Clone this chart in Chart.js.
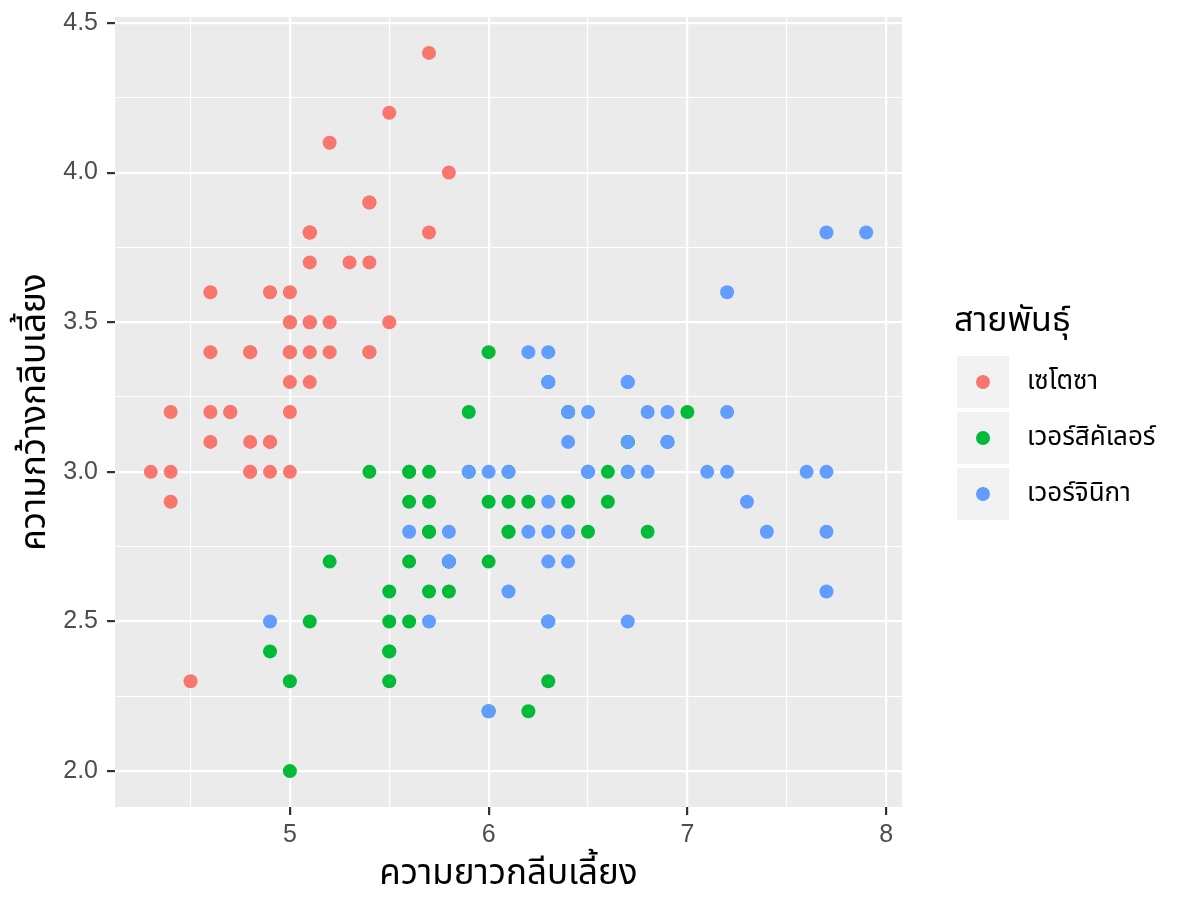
<!DOCTYPE html>
<html>
<head>
<meta charset="utf-8">
<script src="https://cdn.jsdelivr.net/npm/chart.js@4"></script>
<style>
html,body{margin:0;padding:0;background:#fff;}
#c{display:block;}
</style>
</head>
<body>
<canvas id="c" width="1184" height="911"></canvas>
<script>
// ---- Data (sepal length, sepal width) ----
const seriesNames = ["เซโตซา", "เวอร์สิคัเลอร์", "เวอร์จินิกา"];
const setosaX = [5.1,4.9,4.7,4.6,5.0,5.4,4.6,5.0,4.4,4.9,5.4,4.8,4.8,4.3,5.8,5.7,5.4,5.1,5.7,5.1,5.4,5.1,4.6,5.1,4.8,5.0,5.0,5.2,5.2,4.7,4.8,5.4,5.2,5.5,4.9,5.0,5.5,4.9,4.4,5.1,5.0,4.5,4.4,5.0,5.1,4.8,5.1,4.6,5.3,5.0];
const setosaY = [3.5,3.0,3.2,3.1,3.6,3.9,3.4,3.4,2.9,3.1,3.7,3.4,3.0,3.0,4.0,4.4,3.9,3.5,3.8,3.8,3.4,3.7,3.6,3.3,3.4,3.0,3.4,3.5,3.4,3.2,3.1,3.4,4.1,4.2,3.1,3.2,3.5,3.6,3.0,3.4,3.5,2.3,3.2,3.5,3.8,3.0,3.8,3.2,3.7,3.3];
const versicolorX = [7.0,6.4,6.9,5.5,6.5,5.7,6.3,4.9,6.6,5.2,5.0,5.9,6.0,6.1,5.6,6.7,5.6,5.8,6.2,5.6,5.9,6.1,6.3,6.1,6.4,6.6,6.8,6.7,6.0,5.7,5.5,5.5,5.8,6.0,5.4,6.0,6.7,6.3,5.6,5.5,5.5,6.1,5.8,5.0,5.6,5.7,5.7,6.2,5.1,5.7];
const versicolorY = [3.2,3.2,3.1,2.3,2.8,2.8,3.3,2.4,2.9,2.7,2.0,3.0,2.2,2.9,2.9,3.1,3.0,2.7,2.2,2.5,3.2,2.8,2.5,2.8,2.9,3.0,2.8,3.0,2.9,2.6,2.4,2.4,2.7,2.7,3.0,3.4,3.1,2.3,3.0,2.5,2.6,3.0,2.6,2.3,2.7,3.0,2.9,2.9,2.5,2.8];
const virginicaX = [6.3,5.8,7.1,6.3,6.5,7.6,4.9,7.3,6.7,7.2,6.5,6.4,6.8,5.7,5.8,6.4,6.5,7.7,7.7,6.0,6.9,5.6,7.7,6.3,6.7,7.2,6.2,6.1,6.4,7.2,7.4,7.9,6.4,6.3,6.1,7.7,6.3,6.4,6.0,6.9,6.7,6.9,5.8,6.8,6.7,6.7,6.3,6.5,6.2,5.9];
const virginicaY = [3.3,2.7,3.0,2.9,3.0,3.0,2.5,2.9,2.5,3.6,3.2,2.7,3.0,2.5,2.8,3.2,3.0,3.8,2.6,2.2,3.2,2.8,2.8,2.7,3.3,3.2,2.8,3.0,2.8,3.0,2.8,3.8,2.8,2.8,2.6,3.0,3.4,3.1,3.0,3.1,3.1,3.1,2.7,3.2,3.3,3.0,2.5,3.0,3.4,3.0];

const xTicks = [4.5,5,5.5,6,6.5,7,7.5,8];
const xMajor = [5,6,7,8];
const yTicks = [2.0,2.25,2.5,2.75,3.0,3.25,3.5,3.75,4.0,4.25,4.5];
const yMajor = [2.0,2.5,3.0,3.5,4.0,4.5];

const xTitle = "ความยาวกลีบเลี้ยง";
const yTitle = "ความกว้างกลีบเลี้ยง";
const legendTitle = "สายพันธุ์";
const colors = ["#F8766D", "#00BA38", "#619CFF"];

const FONT = "'Liberation Sans', 'Noto Sans Thai', 'Noto Sans', sans-serif";

function pts(xs, ys){ return xs.map((x,i)=>({x:x, y:ys[i]})); }
const isMajor = (arr, v) => arr.some(m => Math.abs(m - v) < 1e-9);

const panelBg = {
  id:'panelBg',
  beforeDraw(chart){
    const {ctx, chartArea:a} = chart;
    ctx.save();
    ctx.fillStyle = '#EBEBEB';
    ctx.fillRect(a.left, a.top, a.right-a.left, a.bottom-a.top);
    ctx.restore();
  }
};

const ggLegend = {
  id:'ggLegend',
  afterDraw(chart){
    const ctx = chart.ctx;
    ctx.save();
    ctx.textAlign = 'left';
    ctx.textBaseline = 'middle';
    ctx.fillStyle = '#000';
    ctx.font = '34px ' + FONT;
    ctx.fillText(legendTitle, 954, 322);
    chart.data.datasets.forEach((ds, i) => {
      const y0 = 356 + i*56;
      ctx.fillStyle = '#F2F2F2';
      ctx.fillRect(957, y0, 52, 52);
      ctx.fillStyle = ds.backgroundColor;
      ctx.beginPath();
      ctx.arc(983, y0+26, 7, 0, Math.PI*2);
      ctx.fill();
      ctx.fillStyle = '#000';
      ctx.font = '26px ' + FONT;
      ctx.fillText(ds.label, 1027, y0+26);
    });
    ctx.restore();
  }
};

new Chart(document.getElementById('c'), {
  type:'scatter',
  data:{
    datasets:[
      {label:seriesNames[0], data:pts(setosaX,setosaY), backgroundColor:colors[0], order:3},
      {label:seriesNames[1], data:pts(versicolorX,versicolorY), backgroundColor:colors[1], order:2},
      {label:seriesNames[2], data:pts(virginicaX,virginicaY), backgroundColor:colors[2], order:1}
    ]
  },
  options:{
    responsive:false,
    animation:false,
    devicePixelRatio:1,
    events:[],
    layout:{padding:{left:0, top:17, right:282, bottom:0}},
    elements:{point:{radius:7, borderWidth:0, hoverRadius:7}},
    plugins:{legend:{display:false}, tooltip:{enabled:false}},
    scales:{
      x:{
        type:'linear', min:4.12, max:8.08,
        afterBuildTicks(s){ s.ticks = xTicks.map(v=>({value:v})); },
        afterFit(s){ s.height = 104; s.paddingLeft = 0; s.paddingRight = 0; },
        ticks:{
          autoSkip:false, maxRotation:0, padding:5, color:'#4D4D4D',
          font:{family:FONT, size:25},
          callback:(v)=> isMajor(xMajor, v) ? String(v) : ''
        },
        grid:{
          color:'#FFFFFF',
          lineWidth:(c)=> isMajor(xMajor, c.tick.value) ? 2.2 : 1.1,
          tickColor:(c)=> isMajor(xMajor, c.tick.value) ? '#333333' : 'rgba(0,0,0,0)',
          tickLength:8, tickWidth:2.2, drawTicks:true
        },
        border:{display:false},
        title:{display:true, text:xTitle, color:'#000', font:{family:FONT, size:35}, padding:{top:0,bottom:16}}
      },
      y:{
        type:'linear', min:1.88, max:4.52,
        afterBuildTicks(s){ s.ticks = yTicks.map(v=>({value:v})); },
        afterFit(s){ s.width = 115; s.paddingTop = 0; s.paddingBottom = 0; },
        ticks:{
          autoSkip:false, padding:9, color:'#4D4D4D',
          font:{family:FONT, size:25},
          callback:(v)=> isMajor(yMajor, v) ? v.toFixed(1) : ''
        },
        grid:{
          color:'#FFFFFF',
          lineWidth:(c)=> isMajor(yMajor, c.tick.value) ? 2.2 : 1.1,
          tickColor:(c)=> isMajor(yMajor, c.tick.value) ? '#333333' : 'rgba(0,0,0,0)',
          tickLength:8, tickWidth:2.2, drawTicks:true
        },
        border:{display:false},
        title:{display:true, text:yTitle, color:'#000', font:{family:FONT, size:35}, padding:{top:14,bottom:0}}
      }
    }
  },
  plugins:[panelBg, ggLegend]
});
</script>
</body>
</html>
